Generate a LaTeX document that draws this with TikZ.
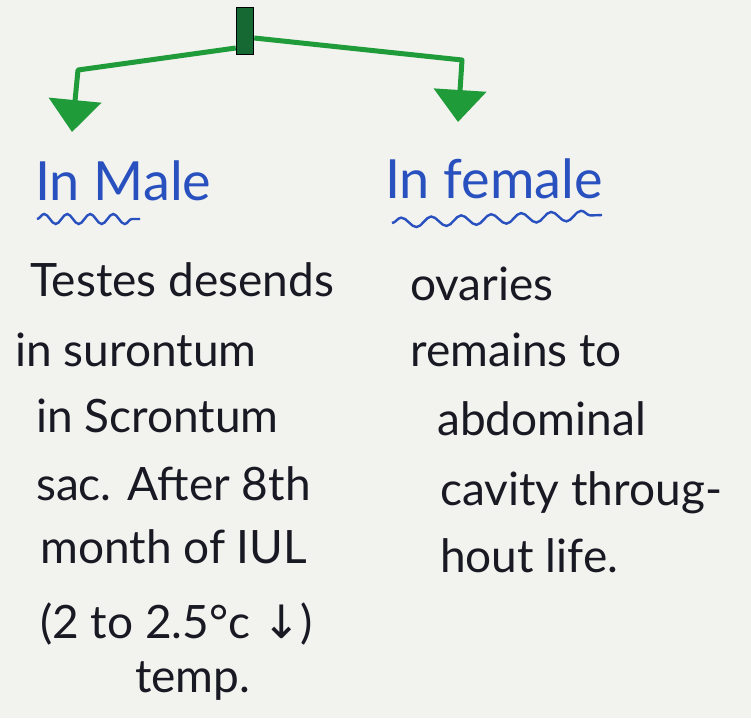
\documentclass[tikz,border=0pt]{standalone}
\usepackage{fontspec}
\setmainfont{Lato}
\newfontfamily\symf{DejaVu Sans}
\usetikzlibrary{arrows.meta,decorations.pathmorphing}
\definecolor{paper}{RGB}{242,242,239}
\definecolor{pen}{RGB}{31,155,58}
\definecolor{boxg}{RGB}{22,105,50}
\definecolor{ink}{RGB}{40,80,190}
\definecolor{txt}{RGB}{25,25,35}
\tikzset{
  conn/.style={draw=pen,line width=5pt,line join=round,-{Triangle[width=52pt,length=32pt]}},
  head/.style={anchor=base west,inner sep=0pt,text=ink,font=\fontsize{54}{54}\selectfont},
  body/.style={anchor=base west,inner sep=0pt,text=txt,font=\fontsize{46}{46}\selectfont},
  wave/.style={draw=ink,line width=2.4pt,decorate,decoration={snake,amplitude=5pt,segment length=#1}},
  root/.style={draw=black,line width=1.5pt,fill=boxg,minimum width=17pt,minimum height=47pt,inner sep=0pt}
}
\begin{document}
\begin{tikzpicture}[x=1pt,y=-1pt]
\fill[paper] (0,0) rectangle (751,718);
\useasboundingbox (0,0) rectangle (751,718);
% connectors
\coordinate (lbend) at (78,70);
\coordinate (ltip) at (72,132);
\coordinate (rbend) at (462,60);
\coordinate (rtip) at (458,122);
\node[root] (root) at (245,31) {};
\draw[conn] ([yshift=-17pt]root.west) -- (lbend) -- (ltip);
\draw[conn] ([yshift=-7pt]root.east) -- (rbend) -- (rtip);
\node[root] at (245,31) {};
% headings
\node[head] (hm) at (35,200) {In Male};
\node[head] (hf) at (385,198) {In female};
\draw[wave=23pt] (37,219) -- (140,219);
\draw[wave=30pt] (392,223) -- (602,215);
% left column
\node[body] (l1) at (30,296) {Testes desends};
\node[body] (l2) at (15,366) {in surontum};
\node[body] (l3) at (36,432) {in Scrontum};
\node[body] (l4) at (36,500) {sac. After 8th};
\node[body] (l5) at (40,563) {month of IUL};
\node[body] (l6) at (40,638) {(2 to 2.5°c {\symf ↓})};
\node[body] (l7) at (135,692) {temp.};
% right column
\node[body] (r1) at (410,300) {ovaries};
\node[body] (r2) at (410,366) {remains to};
\node[body] (r3) at (437,435) {abdominal};
\node[body] (r4) at (440,505) {cavity throug-};
\node[body] (r5) at (440,572) {hout life.};
\end{tikzpicture}
\end{document}
